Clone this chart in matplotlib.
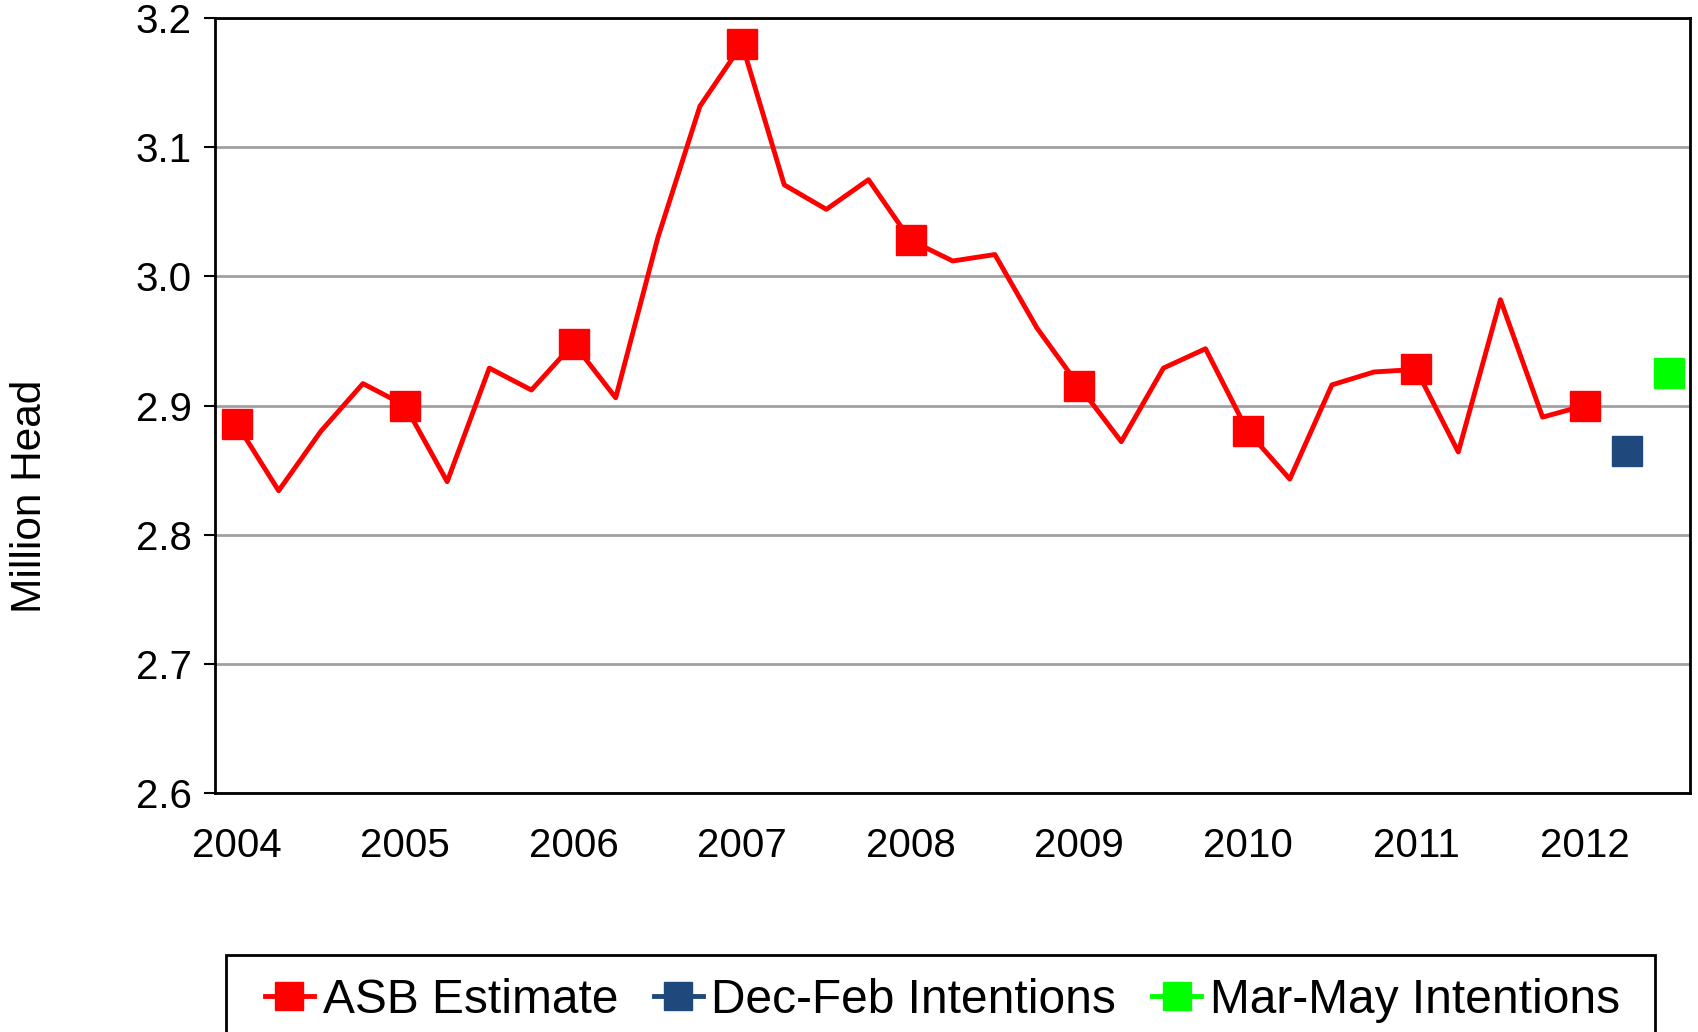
import numpy as np
import matplotlib.pyplot as plt
from matplotlib.patches import Rectangle

plt.rcParams['font.family'] = ['Liberation Sans', 'DejaVu Sans']

# quarterly values, 2004 Q1 .. 2012 Q1
asb_estimate = [2.886, 2.834, 2.880, 2.917,
                2.900, 2.841, 2.929, 2.912,
                2.948, 2.906, 3.030, 3.132,
                3.180, 3.071, 3.052, 3.075,
                3.028, 3.012, 3.017, 2.960,
                2.915, 2.872, 2.929, 2.944,
                2.880, 2.843, 2.916, 2.926,
                2.928, 2.864, 2.982, 2.891,
                2.900]
dec_feb = [2.865]   # 2012 Q2
mar_may = [2.925]   # 2012 Q3
years = ['2004', '2005', '2006', '2007', '2008', '2009', '2010', '2011', '2012']

n_quarters = len(asb_estimate) + len(dec_feb) + len(mar_may)
x = np.arange(n_quarters)
x_asb = x[:len(asb_estimate)]
x_dec = x[len(asb_estimate):len(asb_estimate) + 1]
x_mar = x[len(asb_estimate) + 1:]

fig = plt.figure(figsize=(16.98, 10.32), dpi=100)
ax = fig.add_axes([0.1269, 0.2319, 0.9953 - 0.1269, 0.9822 - 0.2319])

ax.plot(x_asb, asb_estimate, color='#FF0000', lw=3.5, marker='s', ms=22,
        markevery=4, label='ASB Estimate', zorder=3)
ax.plot(x_dec, dec_feb, color='#1F497D', lw=3.5, marker='s', ms=22,
        label='Dec-Feb Intentions', zorder=3)
ax.plot(x_mar, mar_may, color='#00FF00', lw=3.5, marker='s', ms=22,
        label='Mar-May Intentions', zorder=3)

ax.set_xlim(-0.5, n_quarters - 0.5)
ax.set_ylim(2.6, 3.2)
ax.set_yticks(np.arange(2.6, 3.21, 0.1))
ax.set_yticklabels(['%.1f' % v for v in np.arange(2.6, 3.21, 0.1)])
ax.set_xticks(x[::4][:len(years)])
ax.set_xticklabels(years)

ax.grid(axis='y', color='#A0A0A0', lw=2)
ax.set_axisbelow(True)
ax.tick_params(axis='y', labelsize=29, length=8, width=1.5, pad=9)
ax.tick_params(axis='x', labelsize=29, length=0, pad=25)
for s in ax.spines.values():
    s.set_linewidth(2)
    s.set_color('black')

fig.text(0.0178, 0.519, 'Million Head', rotation=90, fontsize=30.5,
         ha='center', va='center')

# legend without frame, box drawn separately (it runs past the bottom edge)
leg = fig.legend(loc='center left', bbox_to_anchor=(0.1561, 0.031), ncol=3,
                 fontsize=34.5, frameon=False, borderaxespad=0, borderpad=0,
                 handlelength=1.02, handletextpad=0.18, columnspacing=0.75,
                 markerscale=0.9)
fig.patches.append(Rectangle((0.1331, -0.05), 0.8416, 0.0746 + 0.05,
                             transform=fig.transFigure, fill=False,
                             edgecolor='black', lw=2))

fig.savefig('out.png', dpi=100)
